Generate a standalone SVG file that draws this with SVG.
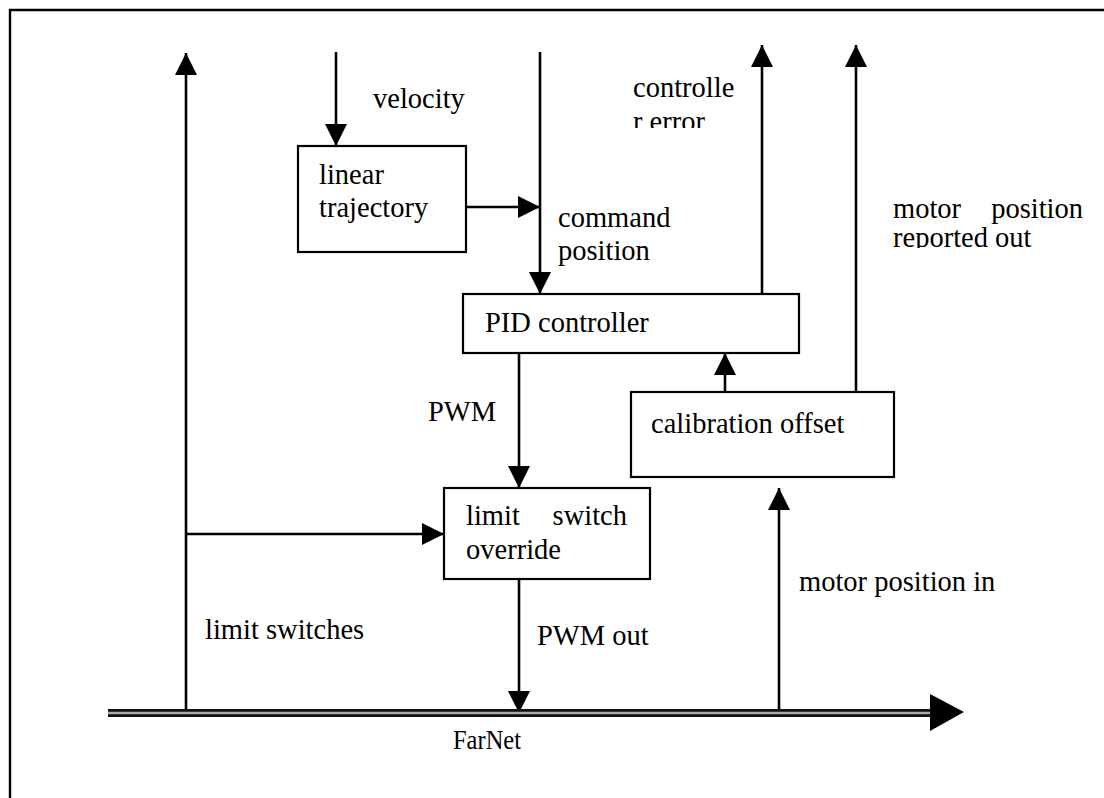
<svg xmlns="http://www.w3.org/2000/svg" width="1104" height="798" viewBox="0 0 1104 798">
<style>
text{font-family:"Liberation Serif","Times New Roman",serif;font-size:28.5px;fill:#000}
.box{fill:#fff;stroke:#000;stroke-width:2.2}
.wire{stroke:#000;stroke-width:2.6;fill:none}
.arr{marker-end:url(#ah)}
</style>
<defs>
<marker id="ah" viewBox="0 0 22 22" refX="22" refY="11" markerWidth="22" markerHeight="22" markerUnits="userSpaceOnUse" orient="auto">
<path d="M0,0 L22,11 L0,22 z" fill="#000"/>
</marker>
<clipPath id="clipErr"><rect x="600" y="100" width="200" height="28"/></clipPath>
<clipPath id="clipRep"><rect x="880" y="220" width="224" height="28"/></clipPath>
</defs>
<rect width="1104" height="798" fill="#fff"/>
<g id="frame" stroke="#000" stroke-width="2.4" fill="none">
<path d="M10,798 L10,10 L1104,10"/>
</g>
<g id="connectors">
<line class="wire arr" x1="186" y1="713" x2="186" y2="53"/>
<line class="wire arr" x1="186" y1="534" x2="444" y2="534"/>
<line class="wire arr" x1="336" y1="52" x2="336" y2="146"/>
<line class="wire arr" x1="466" y1="207" x2="540" y2="207"/>
<line class="wire arr" x1="540" y1="52" x2="540" y2="294"/>
<line class="wire arr" x1="762" y1="294" x2="762" y2="45"/>
<line class="wire arr" x1="856" y1="392" x2="856" y2="45"/>
<line class="wire arr" x1="725" y1="392" x2="725" y2="353"/>
<line class="wire arr" x1="519" y1="353" x2="519" y2="488"/>
<line class="wire arr" x1="519" y1="579" x2="519" y2="713"/>
<line class="wire arr" x1="779" y1="713" x2="779" y2="488"/>
<g id="bus">
<line x1="108" y1="713" x2="932" y2="713" stroke="#111" stroke-width="8"/>
<line x1="108" y1="713" x2="932" y2="713" stroke="#aaa" stroke-width="2.4"/>
<polygon points="930,694 964,712 930,731" fill="#000"/>
</g>
</g>
<g id="linear-trajectory">
<rect class="box" x="298" y="146" width="168" height="106"/>
<text x="319" y="184">linear</text>
<text x="319" y="217">trajectory</text>
</g>
<g id="pid-controller">
<rect class="box" x="463" y="294" width="336" height="59"/>
<text x="485" y="332">PID controller</text>
</g>
<g id="calibration-offset">
<rect class="box" x="631" y="392" width="263" height="85"/>
<text x="651" y="433">calibration offset</text>
</g>
<g id="limit-switch-override">
<rect class="box" x="444" y="488" width="206" height="91"/>
<text x="466" y="525">limit</text>
<text x="627" y="525" text-anchor="end">switch</text>
<text x="466" y="559">override</text>
</g>
<g id="labels">
<text x="373" y="108">velocity</text>
<text x="558" y="227">command</text>
<text x="558" y="260">position</text>
<text x="633" y="97">controlle</text>
<text x="633" y="131" clip-path="url(#clipErr)">r error</text>
<text x="893" y="218">motor</text>
<text x="1083" y="218" text-anchor="end">position</text>
<text x="893" y="247" clip-path="url(#clipRep)">reported out</text>
<text x="428" y="421">PWM</text>
<text x="537" y="645">PWM out</text>
<text x="205" y="639">limit switches</text>
<text x="799" y="591">motor position in</text>
<text x="453" y="749" style="font-size:27px" textLength="68" lengthAdjust="spacingAndGlyphs">FarNet</text>
</g>
</svg>
